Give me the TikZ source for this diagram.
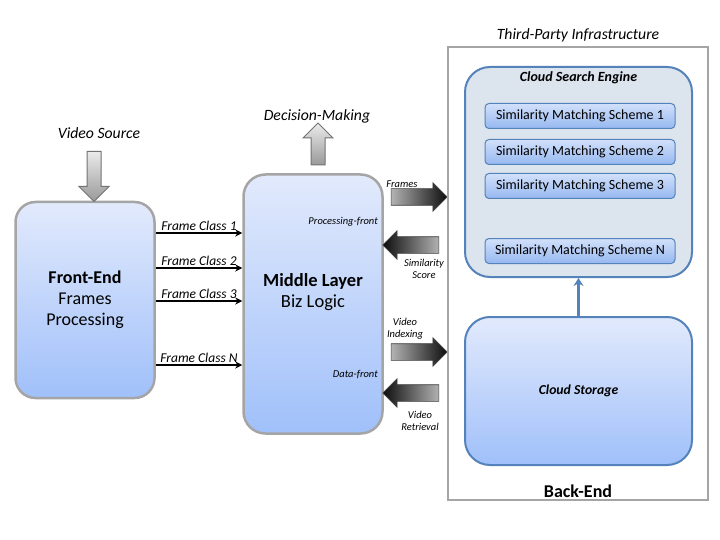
\documentclass[tikz,border=0pt]{standalone}
\usepackage{fontspec}
\setmainfont{Carlito}
\usetikzlibrary{shapes.arrows,arrows.meta,positioning}
\definecolor{boxtop}{RGB}{226,234,252}
\definecolor{boxbot}{RGB}{160,192,250}
\definecolor{boxedge}{RGB}{165,165,165}
\definecolor{blueedge}{RGB}{84,130,186}
\definecolor{enginefill}{RGB}{220,228,238}
\definecolor{schtop}{RGB}{210,224,250}
\definecolor{schbot}{RGB}{150,184,240}
\begin{document}
\begin{tikzpicture}[x=1pt,y=-1pt,>={Stealth[length=7pt,width=7pt]},
	box/.style={draw=boxedge,line width=2.5pt,rounded corners=20pt,top color=boxtop,bottom color=boxbot,align=center,font=\fontsize{18}{21}\selectfont},
	scheme/.style={draw=blueedge,line width=1pt,rounded corners=4pt,top color=schtop,bottom color=schbot,minimum width=190pt,minimum height=25pt,font=\fontsize{14}{16}\selectfont},
	darrow/.style={single arrow,single arrow head extend=6pt,single arrow head indent=0pt,inner sep=8pt,minimum height=56pt,minimum width=28pt,draw=black!75,line width=0.6pt},
	rarrow/.style={darrow,left color=black!30,right color=black!95},
	larrow/.style={darrow,shape border rotate=180,left color=black!95,right color=black!30},
	garrow/.style={single arrow,single arrow head extend=8pt,single arrow head indent=0pt,inner sep=6.5pt,minimum width=29pt,draw=black!55,line width=1pt,top color=black!8,bottom color=black!40},
	lbl/.style={font=\fontsize{13.5}{15}\selectfont\itshape},
	big/.style={font=\fontsize{15.7}{18}\selectfont\itshape},
	small/.style={font=\fontsize{10.5}{12}\selectfont\itshape,align=center,inner sep=1pt}]
	\path[fill=white,use as bounding box] (0,0) rectangle (720,540);
	
	% front end and middle layer
	\node (fe) [box,minimum width=139pt,minimum height=196pt] at (85,300) {\textbf{Front-End}\\Frames\\Processing};
	\node (ml) [box,rounded corners=22pt,minimum width=139pt,minimum height=259pt] at (313,304) {};
	\node (mt) [align=center,font=\fontsize{18.5}{21}\selectfont] at ([yshift=12pt]ml.center) {\textbf{Middle Layer}\\Biz Logic};
	\node (pf) [small,anchor=east] at (379,222) {Processing-front};
	\node (df) [small,anchor=east] at (379,375) {Data-front};
	
	\node (vs) [big] at (99,133) {Video Source};
	\node (va) [garrow,shape border rotate=270,minimum height=50pt] at (94,173) {};
	\node (dm) [big] at (317,116) {Decision-Making};
	\node (da) [garrow,shape border rotate=90,minimum height=42pt] at (318,147.5) {};
	
	\foreach \y/\n in {233/1,268/2,301/3,365/N}
		\draw[->,line width=1.2pt] (fe.east |- 0,\y) -- node[above,lbl,inner sep=2pt] {Frame Class \n} (ml.west |- 0,\y);
	
	% arrows to the back end
	\node (fr) [rarrow] at (415,197) {};
	\node (ss) [larrow] at (415,245) {};
	\node (vi) [rarrow] at (415,352) {};
	\node (vr) [larrow] at (415,393) {};
	\node (frl) [small] at (402,184) {Frames};
	\node (ssl) [small] at (424,269) {Similarity\\Score};
	\node (vil) [small] at (405,329) {Video\\Indexing};
	\node (vrl) [small] at (420,421) {Video\\Retrieval};
	
	% back end
	\node (be) [draw=boxedge,line width=2pt,minimum width=260pt,minimum height=453pt] at (578,273.5) {};
	\node (tp) [big,above=0pt of be] {Third-Party Infrastructure};
	\node (bl) [font=\fontsize{18}{20}\selectfont\bfseries,above=0pt of be.south] {Back-End};
	\node (se) [draw=blueedge,line width=2pt,rounded corners=25pt,fill=enginefill,minimum width=227pt,minimum height=210pt] at (578.5,172) {};
	\node (st) [font=\fontsize{14}{16}\selectfont\bfseries\itshape,below=2pt of se.north] {Cloud Search Engine};
	\foreach \n/\y in {1/116,2/152,3/186,N/251}
		\node (s\n) [scheme] at (580,\y) {Similarity Matching Scheme \n};
	\node (cs) [box,draw=blueedge,line width=2pt,rounded corners=25pt,minimum width=227pt,minimum height=148pt,font=\fontsize{13.7}{16}\selectfont\bfseries\itshape] at (578.5,391) {Cloud Storage};
	
	\draw[-{Stealth[length=8pt,width=10pt]},blueedge,line width=2.4pt] (cs) -- (se);
\end{tikzpicture}
\end{document}
